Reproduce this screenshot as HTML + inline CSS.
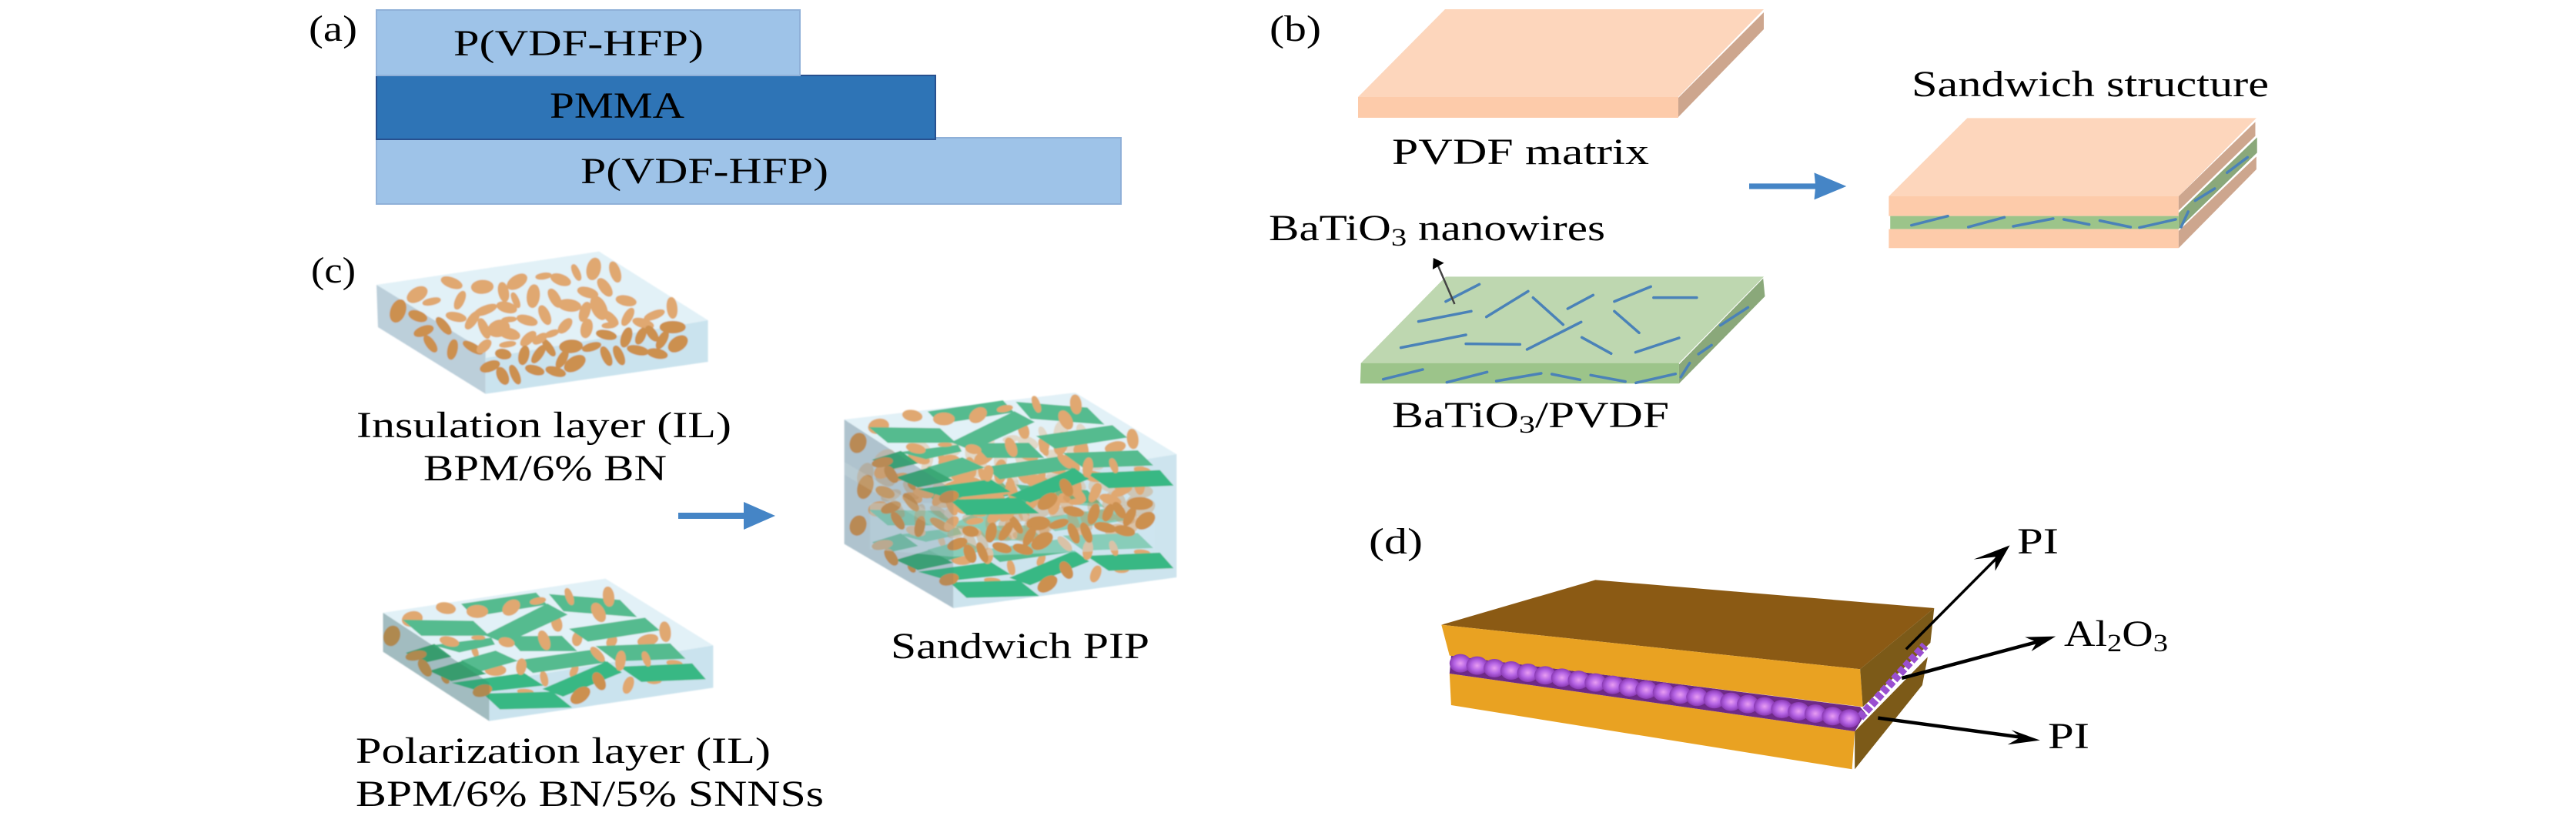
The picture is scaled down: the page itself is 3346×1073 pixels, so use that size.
<!DOCTYPE html>
<html lang="en">
<head>
<meta charset="utf-8">
<title>Sandwich structure diagrams</title>
<style>
html,body{margin:0;padding:0;background:#fff;width:3346px;height:1073px;overflow:hidden}
svg{display:block}
text{font-family:"Liberation Serif",serif;font-size:48px;fill:#000}
.w{stroke:#4a82b8;stroke-width:3.5;vector-effect:non-scaling-stroke;fill:none}
.e{fill:#e0a871;stroke:#e0a871;stroke-width:9}
.d{fill:#cc9050;stroke:#cc9050;stroke-width:9}
.g{fill:#55bb8f;stroke:#55bb8f;stroke-width:5}
.h{fill:#3aa876;stroke:#3aa876;stroke-width:5}
.m{fill:#38b884;stroke:#38b884;stroke-width:5}
.k{stroke:#000;fill:none;vector-effect:non-scaling-stroke}
</style>
</head>
<body>
<svg xmlns="http://www.w3.org/2000/svg" width="3346" height="1073" viewBox="0 0 3346 1073">
<defs>
<filter id="soft" x="-5%" y="-5%" width="110%" height="110%"><feGaussianBlur stdDeviation="0.9"/></filter>
<radialGradient id="bead"><stop offset="0" stop-color="#e89df2"/><stop offset=".55" stop-color="#b564e4"/><stop offset="1" stop-color="#8a3ab4"/></radialGradient>

<g id="ins">
<ellipse class="e" cx="423" cy="218" rx="36" ry="22" transform="rotate(-40 423 218)"/>
<ellipse class="e" cx="472" cy="245" rx="28" ry="10" transform="rotate(-15 472 245)"/>
<ellipse class="e" cx="540" cy="172" rx="35" ry="16" transform="rotate(25 540 172)"/>
<ellipse class="e" cx="644" cy="188" rx="34" ry="23" transform="rotate(-5 644 188)"/>
<ellipse class="e" cx="762" cy="168" rx="36" ry="20" transform="rotate(-40 762 168)"/>
<ellipse class="e" cx="852" cy="146" rx="24" ry="9" transform="rotate(-10 852 146)"/>
<ellipse class="e" cx="910" cy="160" rx="33" ry="17" transform="rotate(25 910 160)"/>
<ellipse class="e" cx="963" cy="132" rx="30" ry="9" transform="rotate(70 963 132)"/>
<ellipse class="e" cx="1022" cy="118" rx="40" ry="20" transform="rotate(-80 1022 118)"/>
<ellipse class="e" cx="1095" cy="130" rx="38" ry="14" transform="rotate(75 1095 130)"/>
<ellipse class="e" cx="716" cy="208" rx="35" ry="14" transform="rotate(80 716 208)"/>
<ellipse class="e" cx="568" cy="240" rx="34" ry="12" transform="rotate(-70 568 240)"/>
<ellipse class="e" cx="757" cy="240" rx="28" ry="8" transform="rotate(70 757 240)"/>
<ellipse class="e" cx="817" cy="224" rx="42" ry="18" transform="rotate(-85 817 224)"/>
<ellipse class="e" cx="890" cy="232" rx="36" ry="14" transform="rotate(65 890 232)"/>
<ellipse class="e" cx="1002" cy="210" rx="33" ry="16" transform="rotate(20 1002 210)"/>
<ellipse class="e" cx="1060" cy="190" rx="36" ry="15" transform="rotate(60 1060 190)"/>
<ellipse class="e" cx="1132" cy="242" rx="32" ry="16" transform="rotate(15 1132 242)"/>
<ellipse class="e" cx="940" cy="260" rx="36" ry="20" transform="rotate(10 940 260)"/>
<ellipse class="e" cx="1288" cy="270" rx="38" ry="14" transform="rotate(85 1288 270)"/>
<ellipse class="e" cx="1228" cy="298" rx="34" ry="12" transform="rotate(-25 1228 298)"/>
<ellipse class="e" cx="1138" cy="305" rx="34" ry="12" transform="rotate(-65 1138 305)"/>
<ellipse class="e" cx="992" cy="285" rx="36" ry="14" transform="rotate(-75 992 285)"/>
<ellipse class="e" cx="1040" cy="270" rx="45" ry="22" transform="rotate(70 1040 270)"/>
<ellipse class="e" cx="1080" cy="310" rx="32" ry="12" transform="rotate(50 1080 310)"/>
<ellipse class="e" cx="856" cy="298" rx="36" ry="14" transform="rotate(70 856 298)"/>
<ellipse class="e" cx="796" cy="318" rx="33" ry="15" transform="rotate(20 796 318)"/>
<ellipse class="e" cx="727" cy="268" rx="32" ry="17" transform="rotate(20 727 268)"/>
<ellipse class="e" cx="655" cy="278" rx="38" ry="13" transform="rotate(-25 655 278)"/>
<ellipse class="e" cx="555" cy="305" rx="32" ry="14" transform="rotate(15 555 305)"/>
<ellipse class="e" cx="610" cy="318" rx="36" ry="13" transform="rotate(-60 610 318)"/>
<ellipse class="d" cx="513" cy="340" rx="36" ry="12" transform="rotate(55 513 340)"/>
<ellipse class="d" cx="425" cy="302" rx="30" ry="16" transform="rotate(25 425 302)"/>
<ellipse class="d" cx="358" cy="282" rx="42" ry="22" transform="rotate(-75 358 282)"/>
<ellipse class="d" cx="445" cy="360" rx="32" ry="15" transform="rotate(-25 445 360)"/>
<ellipse class="d" cx="468" cy="410" rx="33" ry="12" transform="rotate(60 468 410)"/>
<ellipse class="d" cx="543" cy="432" rx="36" ry="13" transform="rotate(-80 543 432)"/>
<ellipse class="d" cx="612" cy="425" rx="36" ry="12" transform="rotate(35 612 425)"/>
<ellipse class="e" cx="650" cy="420" rx="28" ry="14" transform="rotate(-50 650 420)"/>
<ellipse class="e" cx="700" cy="350" rx="35" ry="28" transform="rotate(-30 700 350)"/>
<ellipse class="e" cx="735" cy="370" rx="35" ry="18" transform="rotate(20 735 370)"/>
<ellipse class="e" cx="650" cy="350" rx="38" ry="12" transform="rotate(70 650 350)"/>
<ellipse class="e" cx="735" cy="315" rx="22" ry="7" transform="rotate(-5 735 315)"/>
<ellipse class="e" cx="800" cy="390" rx="32" ry="14" transform="rotate(-50 800 390)"/>
<ellipse class="e" cx="880" cy="370" rx="22" ry="9" transform="rotate(-25 880 370)"/>
<ellipse class="e" cx="925" cy="340" rx="30" ry="14" transform="rotate(-55 925 340)"/>
<ellipse class="e" cx="998" cy="350" rx="34" ry="16" transform="rotate(-80 998 350)"/>
<ellipse class="e" cx="1075" cy="338" rx="22" ry="8" transform="rotate(-5 1075 338)"/>
<ellipse class="d" cx="1065" cy="375" rx="32" ry="14" transform="rotate(15 1065 375)"/>
<ellipse class="e" cx="1190" cy="330" rx="34" ry="14" transform="rotate(20 1190 330)"/>
<ellipse class="d" cx="1220" cy="370" rx="30" ry="12" transform="rotate(60 1220 370)"/>
<ellipse class="d" cx="1290" cy="345" rx="40" ry="20"/>
<ellipse class="d" cx="1133" cy="385" rx="36" ry="14" transform="rotate(-75 1133 385)"/>
<ellipse class="d" cx="1182" cy="380" rx="30" ry="12" transform="rotate(-70 1182 380)"/>
<ellipse class="d" cx="1255" cy="395" rx="34" ry="12" transform="rotate(-65 1255 395)"/>
<ellipse class="d" cx="1308" cy="410" rx="35" ry="22" transform="rotate(-45 1308 410)"/>
<ellipse class="d" cx="1172" cy="435" rx="34" ry="14" transform="rotate(15 1172 435)"/>
<ellipse class="d" cx="1238" cy="448" rx="32" ry="15" transform="rotate(15 1238 448)"/>
<ellipse class="d" cx="945" cy="420" rx="36" ry="22" transform="rotate(-5 945 420)"/>
<ellipse class="d" cx="1015" cy="422" rx="30" ry="12" transform="rotate(-20 1015 422)"/>
<ellipse class="d" cx="1065" cy="458" rx="36" ry="12" transform="rotate(70 1065 458)"/>
<ellipse class="d" cx="1108" cy="455" rx="36" ry="12" transform="rotate(70 1108 455)"/>
<ellipse class="d" cx="915" cy="470" rx="34" ry="12" transform="rotate(-65 915 470)"/>
<ellipse class="d" cx="958" cy="487" rx="38" ry="22" transform="rotate(-40 958 487)"/>
<ellipse class="e" cx="730" cy="412" rx="25" ry="8" transform="rotate(-10 730 412)"/>
<ellipse class="d" cx="715" cy="450" rx="24" ry="16" transform="rotate(15 715 450)"/>
<ellipse class="d" cx="785" cy="455" rx="34" ry="14" transform="rotate(-80 785 455)"/>
<ellipse class="d" cx="835" cy="450" rx="36" ry="12" transform="rotate(-60 835 450)"/>
<ellipse class="d" cx="870" cy="425" rx="34" ry="10" transform="rotate(60 870 425)"/>
<ellipse class="d" cx="893" cy="518" rx="32" ry="14" transform="rotate(20 893 518)"/>
<ellipse class="d" cx="822" cy="512" rx="30" ry="14" transform="rotate(20 822 512)"/>
<ellipse class="d" cx="755" cy="530" rx="36" ry="11" transform="rotate(70 755 530)"/>
<ellipse class="d" cx="713" cy="535" rx="32" ry="15" transform="rotate(70 713 535)"/>
<ellipse class="d" cx="670" cy="498" rx="32" ry="16" transform="rotate(-25 670 498)"/>
<ellipse class="e" cx="840" cy="390" rx="26" ry="12" transform="rotate(-40 840 390)"/>
</g>

<g id="pol">
<ellipse class="d" cx="120" cy="288" rx="22" ry="36" transform="rotate(10 120 288)"/>
<ellipse class="e" cx="292" cy="180" rx="28" ry="18" transform="rotate(15 292 180)"/>
<ellipse class="e" cx="185" cy="222" rx="30" ry="25" transform="rotate(-30 185 222)"/>
<ellipse class="e" cx="645" cy="240" rx="28" ry="13" transform="rotate(80 645 240)"/>
<ellipse class="e" cx="990" cy="272" rx="36" ry="14" transform="rotate(85 990 272)"/>
<ellipse class="e" cx="935" cy="305" rx="30" ry="18" transform="rotate(-20 935 305)"/>
<ellipse class="e" cx="710" cy="300" rx="24" ry="12" transform="rotate(-85 710 300)"/>
<ellipse class="e" cx="820" cy="310" rx="20" ry="12" transform="rotate(-70 820 310)"/>
<ellipse class="e" cx="385" cy="350" rx="18" ry="6" transform="rotate(75 385 350)"/>
<ellipse class="e" cx="450" cy="422" rx="30" ry="18"/>
<ellipse class="e" cx="605" cy="455" rx="26" ry="8" transform="rotate(80 605 455)"/>
<ellipse class="e" cx="700" cy="425" rx="20" ry="8" transform="rotate(-70 700 425)"/>
<ellipse class="e" cx="873" cy="480" rx="30" ry="12" transform="rotate(-75 873 480)"/>
<ellipse class="e" cx="955" cy="462" rx="20" ry="10"/>
<ellipse class="e" cx="1020" cy="395" rx="22" ry="8" transform="rotate(10 1020 395)"/>
<ellipse class="e" cx="545" cy="505" rx="22" ry="6" transform="rotate(5 545 505)"/>
<ellipse class="d" cx="290" cy="458" rx="14" ry="6" transform="rotate(60 290 458)"/>
<polygon class="g" points="345,165 578,122 610,165 380,210"/>
<polygon class="g" points="625,128 845,150 895,212 668,190"/>
<polygon class="g" points="160,228 378,232 425,285 215,285"/>
<polygon class="g" points="420,285 615,165 675,205 480,315"/>
<polygon class="g" points="690,262 925,220 968,265 745,308"/>
<polygon class="g" points="260,325 435,298 445,320 335,350"/>
<polygon class="g" points="490,292 660,290 705,345 530,345"/>
<polygon class="g" points="345,385 450,348 515,385 400,425"/>
<polygon class="g" points="525,385 755,345 800,390 570,430"/>
<polygon class="g" points="775,330 1005,320 1050,375 835,385"/>
<polygon class="h" points="170,355 255,322 305,368 225,390"/>
<polygon class="h" points="245,425 345,388 415,435 310,462"/>
<polygon class="m" points="320,472 540,435 597,480 410,505"/>
<polygon class="m" points="605,495 805,390 848,430 665,522"/>
<polygon class="m" points="850,410 1075,398 1115,455 915,465"/>
<polygon class="m" points="415,515 630,508 688,565 465,572"/>
<ellipse class="e" cx="392" cy="193" rx="30" ry="21"/>
<ellipse class="e" cx="500" cy="178" rx="30" ry="20" transform="rotate(-55 500 178)"/>
<ellipse class="e" cx="585" cy="152" rx="22" ry="9" transform="rotate(-15 585 152)"/>
<ellipse class="e" cx="685" cy="135" rx="30" ry="8" transform="rotate(75 685 135)"/>
<ellipse class="e" cx="810" cy="135" rx="35" ry="14" transform="rotate(85 810 135)"/>
<ellipse class="e" cx="778" cy="197" rx="35" ry="16" transform="rotate(70 778 197)"/>
<ellipse class="e" cx="605" cy="305" rx="35" ry="13" transform="rotate(75 605 305)"/>
<ellipse class="e" cx="303" cy="310" rx="28" ry="14" transform="rotate(20 303 310)"/>
<ellipse class="e" cx="485" cy="313" rx="22" ry="14" transform="rotate(20 485 313)"/>
<ellipse class="e" cx="395" cy="295" rx="18" ry="4"/>
<ellipse class="e" cx="532" cy="408" rx="28" ry="12" transform="rotate(-85 532 408)"/>
<ellipse class="e" cx="775" cy="360" rx="30" ry="10" transform="rotate(55 775 360)"/>
<ellipse class="e" cx="848" cy="385" rx="35" ry="12" transform="rotate(-85 848 385)"/>
<ellipse class="e" cx="930" cy="378" rx="26" ry="8" transform="rotate(75 930 378)"/>
<ellipse class="d" cx="780" cy="465" rx="32" ry="14" transform="rotate(70 780 465)"/>
<ellipse class="d" cx="720" cy="520" rx="35" ry="20" transform="rotate(-50 720 520)"/>
<ellipse class="d" cx="408" cy="502" rx="28" ry="18" transform="rotate(-25 408 502)"/>
<ellipse class="d" cx="197" cy="365" rx="30" ry="14" transform="rotate(-15 197 365)"/>
<ellipse class="d" cx="225" cy="413" rx="32" ry="13" transform="rotate(65 225 413)"/>
</g>
</defs>

<rect x="0" y="0" width="3346" height="1073" fill="#fff"/>

<!-- (a) -->
<rect x="489" y="179" width="967" height="86" fill="#9ec3e8" stroke="#8fb0d8" stroke-width="2"/>
<rect x="489" y="98" width="726" height="83" fill="#2e74b6" stroke="#27508f" stroke-width="2"/>
<rect x="489" y="13" width="550" height="85" fill="#9ec3e8" stroke="#8fb0d8" stroke-width="2"/>
<text x="401" y="53" textLength="63" lengthAdjust="spacingAndGlyphs">(a)</text>
<text x="589" y="72" textLength="325" lengthAdjust="spacingAndGlyphs">P(VDF-HFP)</text>
<text x="714" y="153" textLength="175" lengthAdjust="spacingAndGlyphs">PMMA</text>
<text x="754" y="238" textLength="322" lengthAdjust="spacingAndGlyphs">P(VDF-HFP)</text>

<!-- (c) insulation -->
<text x="404" y="367" textLength="58" lengthAdjust="spacingAndGlyphs">(c)</text>
<g filter="url(#soft)">
<g transform="translate(380,310) scale(.3827,.3333)">
<polygon fill="#e2f1f7" points="285,180 1040,50 1410,318 655,465"/>
<polygon fill="#bccfda" points="285,180 655,440 655,605 290,345"/>
<polygon fill="#cae3ee" points="655,465 1410,318 1410,480 655,605"/>
<use href="#ins"/>
</g>
</g>
<text x="463" y="568" textLength="487" lengthAdjust="spacingAndGlyphs">Insulation layer (IL)</text>
<text x="550" y="624" textLength="316" lengthAdjust="spacingAndGlyphs">BPM/6% BN</text>

<!-- blue arrow c -->
<polygon fill="#4585c6" points="881,666 966,666 966,652 1007,670 966,688 966,674 881,674"/>

<!-- (c) polarization -->
<g filter="url(#soft)">
<g transform="translate(460,730) scale(.408,.3333)">
<polygon fill="#e2f1f7" points="92,198 800,65 1143,325 430,470"/>
<polygon fill="#bccfda" points="92,198 430,470 430,620 92,350"/>
<polygon fill="#cae3ee" points="430,470 1143,325 1143,490 430,620"/>
<use href="#pol"/>
<polygon fill="#2a6a50" opacity=".18" points="92,198 430,470 430,620 92,350"/>
</g>
</g>
<text x="462" y="991" textLength="539" lengthAdjust="spacingAndGlyphs">Polarization layer (IL)</text>
<text x="462" y="1047" textLength="608" lengthAdjust="spacingAndGlyphs">BPM/6% BN/5% SNNSs</text>

<!-- (c) sandwich PIP -->
<g filter="url(#soft)">
<g transform="translate(1050,510) scale(.3333)">
<polygon fill="#e2f1f7" points="140,105 1040,0 1435,240 565,380"/>
<polygon fill="#c0d2dc" points="140,105 565,380 565,840 140,590"/>
<polygon fill="#cde4ee" points="565,380 1435,240 1435,720 565,840"/>
<use href="#pol" transform="matrix(1.23,0,0,.983,46,235)"/>
<polygon fill="#cfe8f2" opacity=".42" points="240,430 1350,430 1350,610 560,640 240,610"/>
<use href="#ins" opacity=".35" transform="matrix(1.148,0,0,1.03,-189,30)"/>
<use href="#ins" transform="matrix(1.148,0,0,1.03,-189,77)"/>
<use href="#pol" transform="matrix(1.23,0,0,.983,46,-87)"/>
<polygon fill="#4a6a78" opacity=".14" points="140,105 565,380 565,840 140,590"/>
<polygon fill="#ffffff" opacity=".12" points="140,270 565,520 565,570 140,320"/>
</g>
</g>
<text x="1157" y="855" textLength="336" lengthAdjust="spacingAndGlyphs">Sandwich PIP</text>

<!-- (b) PVDF matrix -->
<text x="1649" y="53" textLength="67" lengthAdjust="spacingAndGlyphs">(b)</text>
<polygon fill="#fdd6bc" points="1877,12 2291,12 2180,126 1764,126"/>
<polygon fill="#fdcbaa" points="1764,126 2180,126 2180,153 1764,153"/>
<polygon fill="#cda68e" points="2180,127 2291,16 2291,38 2180,152"/>
<text x="1808" y="213" textLength="334" lengthAdjust="spacingAndGlyphs">PVDF matrix</text>

<text x="1648" y="312" textLength="437" lengthAdjust="spacingAndGlyphs">BaTiO<tspan font-size="33" dy="7">3</tspan><tspan dy="-7"> nanowires</tspan></text>

<!-- BaTiO3/PVDF -->
<g transform="translate(1630,270) scale(.4591,.3333)">
<polygon fill="#bed7b0" points="540,268 1440,268 1200,605 300,605"/>
<polygon fill="#9cc48a" points="300,605 1200,605 1200,685 298,685"/>
<polygon fill="#8aa87a" points="1200,610 1438,275 1443,345 1200,685"/>
<g stroke-linecap="round">
<line class="w" x1="540" y1="365" x2="635" y2="298"/>
<line class="w" x1="463" y1="443" x2="612" y2="403"/>
<line class="w" x1="655" y1="425" x2="773" y2="325"/>
<line class="w" x1="787" y1="350" x2="872" y2="455"/>
<line class="w" x1="885" y1="393" x2="957" y2="340"/>
<line class="w" x1="1017" y1="365" x2="1120" y2="307"/>
<line class="w" x1="1128" y1="350" x2="1250" y2="350"/>
<line class="w" x1="1017" y1="403" x2="1087" y2="487"/>
<line class="w" x1="770" y1="552" x2="923" y2="445"/>
<line class="w" x1="413" y1="545" x2="597" y2="495"/>
<line class="w" x1="597" y1="530" x2="750" y2="532"/>
<line class="w" x1="925" y1="505" x2="1008" y2="568"/>
<line class="w" x1="1077" y1="563" x2="1200" y2="507"/>
<line class="w" x1="1317" y1="458" x2="1395" y2="388"/>
<line class="w" x1="1255" y1="570" x2="1292" y2="535"/>
<line class="w" x1="1205" y1="660" x2="1230" y2="605"/>
<line class="w" x1="363" y1="668" x2="475" y2="630"/>
<line class="w" x1="543" y1="680" x2="657" y2="640"/>
<line class="w" x1="683" y1="675" x2="810" y2="645"/>
<line class="w" x1="840" y1="648" x2="920" y2="670"/>
<line class="w" x1="950" y1="652" x2="1048" y2="677"/>
<line class="w" x1="1078" y1="682" x2="1190" y2="647"/>
</g>
<line x1="565" y1="375" x2="518" y2="225" stroke="#444" stroke-width="2.5" vector-effect="non-scaling-stroke"/>
<polygon fill="#000" points="505,195 535,215 503,240"/>
</g>
<text x="1808" y="555" textLength="360" lengthAdjust="spacingAndGlyphs">BaTiO<tspan font-size="33" dy="7">3</tspan><tspan dy="-7">/PVDF</tspan></text>

<!-- blue arrow b and sandwich -->
<g transform="translate(2250,70) scale(.4591,.3333)">
<polygon fill="#4585c6" points="48,505 235,505 232,463 323,516 232,568 235,527 48,527"/>
<polygon fill="#fdd6bc" points="665,250 1483,250 1263,555 443,555"/>
<polygon fill="#fdcbaa" points="443,555 1263,555 1263,632 443,632"/>
<polygon fill="#9cc48a" points="447,632 1263,632 1263,683 447,683"/>
<polygon fill="#fdcbaa" points="443,683 1263,683 1263,757 443,757"/>
<polygon fill="#cda68e" points="1263,555 1480,265 1480,320 1263,610"/>
<polygon fill="#8aa87a" points="1263,620 1485,325 1485,385 1263,683"/>
<polygon fill="#cda68e" points="1263,690 1483,400 1483,450 1263,757"/>
<g stroke-linecap="round">
<line class="w" x1="507" y1="668" x2="610" y2="632"/>
<line class="w" x1="668" y1="675" x2="770" y2="637"/>
<line class="w" x1="795" y1="672" x2="908" y2="642"/>
<line class="w" x1="938" y1="645" x2="1010" y2="665"/>
<line class="w" x1="1040" y1="650" x2="1127" y2="675"/>
<line class="w" x1="1152" y1="677" x2="1255" y2="645"/>
<line class="w" x1="1270" y1="675" x2="1290" y2="615"/>
<line class="w" x1="1310" y1="572" x2="1365" y2="525"/>
<line class="w" x1="1400" y1="463" x2="1458" y2="403"/>
</g>
</g>
<text x="2483" y="125" textLength="464" lengthAdjust="spacingAndGlyphs">Sandwich structure</text>

<!-- (d) -->
<text x="1778" y="719" textLength="70" lengthAdjust="spacingAndGlyphs">(d)</text>
<g transform="translate(1760,660) scale(.7018,.3333)">
<polygon fill="#e9a222" points="175,645 925,870 920,1018 178,768"/>
<polygon fill="#7c5a18" points="925,870 1060,580 1050,690 925,1018"/>
<polygon fill="#6e2a86" points="178,575 935,775 945,800 925,870 175,645"/>
<polygon fill="#8b5a14" points="445,280 1072,390 935,628 160,455"/>
<polygon fill="#e9a222" points="160,455 935,628 940,775 175,575"/>
<polygon fill="#7c5a18" points="935,628 1072,390 1065,525 940,775"/>
<line x1="935" y1="815" x2="1055" y2="535" stroke="#9a4fd0" stroke-width="11" stroke-dasharray="8 3" vector-effect="non-scaling-stroke"/>
<g fill="url(#bead)">
<ellipse cx="195" cy="605" rx="20" ry="36"/><ellipse cx="226" cy="614" rx="20" ry="36"/><ellipse cx="258" cy="624" rx="20" ry="36"/><ellipse cx="289" cy="633" rx="20" ry="36"/>
<ellipse cx="320" cy="642" rx="20" ry="36"/><ellipse cx="352" cy="652" rx="20" ry="36"/><ellipse cx="383" cy="661" rx="20" ry="36"/><ellipse cx="414" cy="670" rx="20" ry="36"/>
<ellipse cx="445" cy="680" rx="20" ry="36"/><ellipse cx="477" cy="689" rx="20" ry="36"/><ellipse cx="508" cy="699" rx="20" ry="36"/><ellipse cx="539" cy="708" rx="20" ry="36"/>
<ellipse cx="571" cy="717" rx="20" ry="36"/><ellipse cx="602" cy="727" rx="20" ry="36"/><ellipse cx="633" cy="736" rx="20" ry="36"/><ellipse cx="665" cy="745" rx="20" ry="36"/>
<ellipse cx="696" cy="755" rx="20" ry="36"/><ellipse cx="727" cy="764" rx="20" ry="36"/><ellipse cx="758" cy="773" rx="20" ry="36"/><ellipse cx="790" cy="783" rx="20" ry="36"/>
<ellipse cx="821" cy="792" rx="20" ry="36"/><ellipse cx="852" cy="801" rx="20" ry="36"/><ellipse cx="884" cy="811" rx="20" ry="36"/><ellipse cx="915" cy="820" rx="20" ry="36"/>
</g>
<line class="k" stroke-width="3.5" x1="1020" y1="550" x2="1190" y2="190"/>
<polygon fill="#000" points="1212,145 1145,200 1185,190 1185,245"/>
<line class="k" stroke-width="4.5" x1="1012" y1="663" x2="1262" y2="522"/>
<polygon fill="#000" points="1297,500 1240,503 1262,522 1252,558"/>
<line class="k" stroke-width="4.5" x1="968" y1="818" x2="1232" y2="893"/>
<polygon fill="#000" points="1268,905 1215,865 1232,893 1208,922"/>
</g>
<text x="2620" y="719" textLength="54" lengthAdjust="spacingAndGlyphs">PI</text>
<text x="2681" y="839" textLength="135" lengthAdjust="spacingAndGlyphs">Al<tspan font-size="33" dy="7">2</tspan><tspan dy="-7">O</tspan><tspan font-size="33" dy="7">3</tspan></text>
<text x="2660" y="972" textLength="54" lengthAdjust="spacingAndGlyphs">PI</text>
</svg>
</body>
</html>
